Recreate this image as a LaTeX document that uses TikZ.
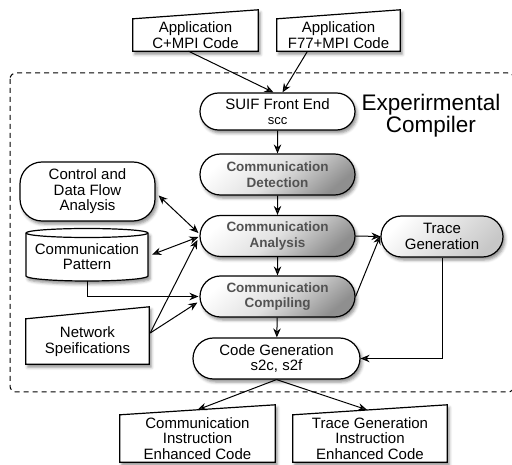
\documentclass[tikz,border=0pt]{standalone}
\usepackage{fontspec}
\setmainfont{Liberation Sans}
\usetikzlibrary{arrows.meta,shapes.misc,shadows.blur,backgrounds,calc}

\tikzset{
  lbl/.style={font=\fontsize{15}{15.5}\selectfont, align=center, inner sep=0pt},
  softshadow/.style={blur shadow={shadow xshift=2pt, shadow yshift=-3pt,
      shadow blur radius=3pt, shadow opacity=45}},
  stadium/.style={lbl, rounded rectangle, draw, line width=1.2pt, fill=white,
      softshadow, minimum width=155pt, minimum height=41pt},
  shadedstep/.style={stadium, top color=white, bottom color=black!44,
      middle color=black!12, shading angle=40,
      font=\fontsize{13.5}{15.5}\selectfont\bfseries, text=black!68},
  lightstep/.style={stadium, top color=white, bottom color=black!22,
      shading angle=45},
  textarea/.style={lbl, minimum width=#1},
  docshape/.style={draw, line width=1.2pt, fill=white, softshadow},
  flow/.style={line width=1pt, -{Stealth[length=9pt,width=7.5pt,inset=3pt]}},
  twoway/.style={line width=1pt,
      {Stealth[length=9pt,width=7.5pt,inset=3pt]}-{Stealth[length=9pt,width=7.5pt,inset=3pt]}},
  frame/.style={line width=1pt, dash pattern=on 5pt off 4pt, rounded corners=6pt},
}

% document-like box: flat bottom, sloped top rising to the right
\newcommand{\docbox}[2]{%
  \path[docshape] (#1.south west) -- (#1.south east)
    -- ($(#1.north east)+(0,#2)$) -- (#1.north west) -- cycle;}

\begin{document}
\begin{tikzpicture}[x=1pt,y=1pt]
\useasboundingbox (0,0) rectangle (512,-465);

% compiler boundary
\draw[frame] (10,-73) rectangle (514,-392);

% inputs
\node[textarea=125pt, minimum height=32pt] (app1) at (195.5,-35) {Application\\C+MPI Code};
\node[textarea=123pt, minimum height=32pt] (app2) at (338.5,-35) {Application\\F77+MPI Code};

% compiler passes
\node[stadium] (suif) at (277.5,-111.5) [minimum height=37pt]
  {SUIF Front End\\[-1pt]{\fontsize{13}{13}\selectfont scc}};
\node[shadedstep] (det) at (277.5,-174.5) {Communication\\Detection};
\node[shadedstep] (ana) at (277.5,-236) {Communication\\Analysis};
\node[shadedstep] (comp) at (277.5,-296.5) {Communication\\Compiling};
\node[stadium, minimum width=167pt] (gen) at (276.5,-358.5) {Code Generation\\s2c, s2f};
\node[lightstep, minimum width=122pt] (trace) at (442,-236.5) {Trace\\Generation};

\node[font=\fontsize{22.5}{22}\selectfont, align=center, inner sep=0pt] (title)
  at (431,-116) {Experirmental\\Compiler};

% side inputs
\node[lbl, draw, line width=1.2pt, fill=white, softshadow, rounded corners=22pt,
      minimum width=135pt, minimum height=59pt] (ctrl) at (87.5,-191.5)
  {Control and\\Data Flow\\Analysis};
\node[textarea=122pt, minimum height=48pt] (pat) at (87,-256.5) {Communication\\Pattern};
\node[textarea=123pt, minimum height=45pt] (net) at (87.5,-341.5) {Network\\Speifications};

% outputs
\node[textarea=155pt, minimum height=47pt] (out1) at (197.5,-438.5)
  {Communication\\Instruction\\Enhanced Code};
\node[textarea=154pt, minimum height=47pt] (out2) at (370,-438.5)
  {Trace Generation\\Instruction\\Enhanced Code};

\begin{pgfonlayer}{background}
  \docbox{app1}{9}
  \docbox{app2}{9}
  \docbox{net}{12}
  \docbox{out1}{10}
  \docbox{out2}{10}
  % storage cylinder
  \path[docshape] (26,-233) -- (26,-276)
    arc[start angle=180, end angle=360, x radius=61, y radius=5]
    -- (148,-233)
    arc[start angle=0, end angle=180, x radius=61, y radius=4.5] -- cycle;
  \draw[line width=1.2pt] (26,-233)
    arc[start angle=180, end angle=360, x radius=61, y radius=4.5];
\end{pgfonlayer}

% main flow
\draw[flow] ($(app1.south)+(-7,0)$) -- ($(suif.north)+(-4,0)$);
\draw[flow] ($(app2.south)+(-31,0)$) -- ($(suif.north)+(5,0)$);
\draw[flow] (suif) -- (det);
\draw[flow] (det) -- (ana);
\draw[flow] (ana) -- (comp);
\draw[flow] (comp) -- (gen);

% analysis inputs
\draw[twoway] ($(ctrl.east)+(3,-4)$) -- ($(ana.west)+(-1,3)$);
\draw[twoway] ($(pat.east)+(4,2)$) -- ($(ana.west)+(-1,-1)$);
\draw[flow] (pat.south) |- ($(comp.west)+(-1,0)$);
\coordinate (netout) at ($(net.east)+(1,8.5)$);
\draw[flow] (netout) -- ($(ana.west)+(-2,-4)$);
\draw[flow] (netout) -- ($(comp.west)+(-2,-6)$);

% trace generation
\draw[flow] (ana.east) -- (trace.west);
\draw[flow] (comp.east) -- ($(trace.west)+(0,1)$);
\draw[flow] (trace.south) |- (gen.east);

% outputs
\draw[flow] (gen.south) -- ($(out1.north)+(0,5)$);
\draw[flow] (gen.south) -- ($(out2.north)+(-3,5)$);
\end{tikzpicture}
\end{document}
